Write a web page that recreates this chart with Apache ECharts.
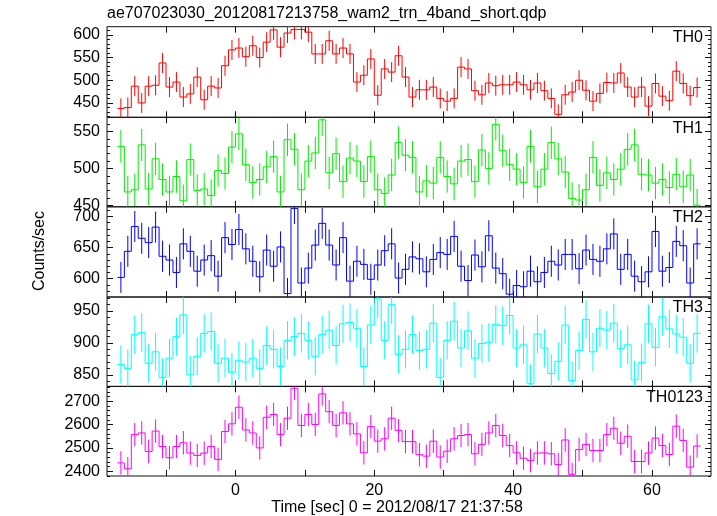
<!DOCTYPE html>
<html><head><meta charset="utf-8">
<script src="https://cdn.jsdelivr.net/npm/echarts@6/dist/echarts.min.js"></script>
<style>html,body{margin:0;padding:0;background:#fff}#c{width:717px;height:516px}</style>
</head><body><div id="c"></div>
<script>
// ---- data ----
const times = [-16.5,-15.5,-14.5,-13.5,-12.5,-11.5,-10.5,-9.5,-8.5,-7.5,-6.5,-5.5,-4.5,-3.5,-2.5,-1.5,-0.5,0.5,1.5,2.5,3.5,4.5,5.5,6.5,7.5,8.5,9.5,10.5,11.5,12.5,13.5,14.5,15.5,16.5,17.5,18.5,19.5,20.5,21.5,22.5,23.5,24.5,25.5,26.5,27.5,28.5,29.5,30.5,31.5,32.5,33.5,34.5,35.5,36.5,37.5,38.5,39.5,40.5,41.5,42.5,43.5,44.5,45.5,46.5,47.5,48.5,49.5,50.5,51.5,52.5,53.5,54.5,55.5,56.5,57.5,58.5,59.5,60.5,61.5,62.5,63.5,64.5,65.5,66.5];
const th0 = [438,440,487,450,487,489,538,485,496,463,470,507,457,487,483,532,567,571,552,576,550,584,611,573,604,612,612,606,558,558,587,558,571,558,496,511,547,467,
  525,518,554,507,463,479,479,485,460,454,460,529,525,477,468,494,488,490,490,496,490,479,494,477,460,425,468,474,500,478,454,471,495,494,516,485,463,485,443,493,465,455,520,493,466,484];
const th1 = [530,468,471,532,472,513,485,468,489,456,512,470,472,463,497,493,529,547,505,481,485,502,516,468,539,526,471,510,521,566,494,520,482,514,510,482,516,471,
  466,491,535,518,515,468,483,480,515,489,479,510,512,482,525,500,560,524,505,499,481,530,475,499,535,513,495,459,457,471,515,477,494,485,499,526,532,492,491,480,485,474,492,475,491,450];
const th2 = [602,644,684,665,658,683,636,630,610,656,644,612,630,637,604,666,655,679,648,628,603,646,620,651,576,713,593,617,654,689,654,622,666,596,628,623,599,622,
  645,656,601,615,635,632,611,631,642,639,668,620,597,638,619,669,617,608,575,589,587,612,595,610,628,622,639,639,616,646,631,628,648,672,615,639,604,595,611,676,612,618,660,653,593,656];
const th3 = [866,860,913,916,868,886,846,876,910,944,850,879,915,918,868,876,854,872,870,876,860,896,890,863,904,910,915,904,879,913,920,896,930,932,923,863,928,969,
  904,960,882,890,913,888,890,931,846,904,934,892,919,876,899,901,929,927,943,892,897,836,914,892,852,871,928,841,888,937,886,923,920,931,891,897,842,869,930,893,941,922,914,909,868,915];
const th0123 = [2436,2411,2557,2564,2485,2572,2506,2458,2506,2522,2478,2468,2478,2506,2451,2570,2603,2674,2577,2564,2500,2631,2643,2557,2627,2755,2596,2643,2600,2731,2655,2596,2650,2603,2560,2479,2591,2529,
  2539,2627,2574,2527,2527,2471,2465,2529,2461,2486,2539,2553,2557,2475,2515,2564,2596,2553,2510,2479,2456,2446,2478,2479,2475,2429,2534,2387,2493,2515,2489,2489,2557,2584,2520,2550,2442,2442,2478,2542,2510,2472,2593,2532,2418,2508];
// one-sigma error per panel
const errs = [22, 22, 25, 30, 50];
const names = ['TH0','TH1','TH2','TH3','TH0123'];
const xTickVals = [-10,0,10,20,30,40,50,60];
const xLabelVals = [0,20,40,60];
const yMajor = [[450,500,550,600],[450,500,550],[600,650,700],[850,900,950],[2400,2500,2600,2700]];
const yRange = [[418.4,618],[447.8,569.5],[570.5,715.6],[831.8,972],[2380,2763]];
const yMinorStep = [10,10,10,10,20];
const title = 'ae707023030_20120817213758_wam2_trn_4band_short.qdp';
const xTitle = 'Time [sec] 0 = 2012/08/17 21:37:58';
const yTitle = 'Counts/sec';

// ---- layout / style ----
const colors = ['#ff0000','#00ee00','#0000ff','#00ffff','#ff00ff'];
const tops = [26.7,117.3,206.8,297,386.4];
const bottoms = [117.3,206.8,297,386.4,476];
const X0 = -18.5, X1 = 68.5;
const FONT = 'Liberation Sans, Arial, Helvetica, sans-serif';
const series = [th0, th1, th2, th3, th0123];

const grids = [], xAxes = [], yAxes = [], ser = [], graphics = [];
for (let g = 0; g < 5; g++) {
  grids.push({left:107, right:6, top:tops[g], height:bottoms[g]-tops[g], show:true, borderColor:'#111', borderWidth:1, backgroundColor:'transparent'});
  const last = g === 4;
  ['bottom','top'].forEach(pos => {
    xAxes.push({type:'value', gridIndex:g, min:X0, max:X1, position:pos,
      axisLine:{show:false, onZero:false}, splitLine:{show:false},
      axisTick:{show:true, inside:true, length:6, lineStyle:{color:'#111'}, customValues:xTickVals},
      axisLabel:{show: last && pos==='bottom', customValues:xLabelVals, margin:7, color:'#000', fontSize:16, fontFamily:FONT,
        formatter: v => String(v)}});
  });
  const [ymin, ymax] = yRange[g];
  const minor = [];
  for (let v = Math.ceil(ymin / yMinorStep[g]) * yMinorStep[g]; v <= ymax; v += yMinorStep[g]) minor.push(v);
  ['left','right'].forEach(pos => {
    yAxes.push({type:'value', gridIndex:g, min:ymin, max:ymax, position:pos,
      axisLine:{show:false, onZero:false}, splitLine:{show:false},
      axisTick:{show:true, inside:true, length:6, lineStyle:{color:'#111'}, customValues:yMajor[g]},
      axisLabel:{show: pos==='left', customValues:yMajor[g], margin:7, color:'#000', fontSize:16, fontFamily:FONT,
        formatter: v => String(v)}});
    yAxes.push({type:'value', gridIndex:g, min:ymin, max:ymax, position:pos,
      axisLine:{show:false, onZero:false}, splitLine:{show:false},
      axisTick:{show:true, inside:true, length:3, lineStyle:{color:'#111'}, customValues:minor},
      axisLabel:{show:false}});
  });
  const vals = series[g];
  const data = vals.map((v, i) => [times[i], v, errs[g], i + 1 < vals.length ? vals[i+1] : NaN]);
  const col = colors[g];
  ser.push({type:'custom', xAxisIndex:2*g, yAxisIndex:4*g, clip:true, data,
    encode:{x:0, y:1},
    renderItem: function (params, api) {
      const t = api.value(0), v = api.value(1), e = api.value(2), nv = api.value(3);
      const a = api.coord([t - 0.5, v]), b = api.coord([t + 0.5, v]);
      const p1 = api.coord([t, v + e]), p2 = api.coord([t, v - e]);
      const st = {stroke: col, lineWidth: 1, fill: null};
      const ch = [
        {type:'line', shape:{x1:a[0], y1:a[1], x2:b[0], y2:b[1]}, style:st},
        {type:'line', shape:{x1:p1[0], y1:p1[1], x2:p2[0], y2:p2[1]}, style:st}
      ];
      if (!isNaN(nv)) {
        const c = api.coord([t + 0.5, nv]);
        ch.push({type:'line', shape:{x1:b[0], y1:b[1], x2:c[0], y2:c[1]}, style:st});
      }
      return {type:'group', children:ch};
    }});
  graphics.push({type:'text', right:14, top:tops[g] + 3, style:{text:names[g], fill:'#000', font:'16px ' + FONT}});
}
graphics.push({type:'text', left:107, top:6, style:{text:title, fill:'#000', font:'16px ' + FONT}});
graphics.push({type:'text', x:397, y:508, style:{text:xTitle, fill:'#000', font:'16px ' + FONT, textAlign:'center', textVerticalAlign:'middle'}});
graphics.push({type:'text', x:40, y:251, rotation:Math.PI/2, style:{text:yTitle, fill:'#000', font:'16px ' + FONT, textAlign:'center', textVerticalAlign:'middle'}});

const chart = echarts.init(document.getElementById('c'), null, {renderer:'canvas'});
chart.setOption({animation:false, backgroundColor:'#fff', grid:grids, xAxis:xAxes, yAxis:yAxes, series:ser, graphic:graphics});
</script></body></html>
